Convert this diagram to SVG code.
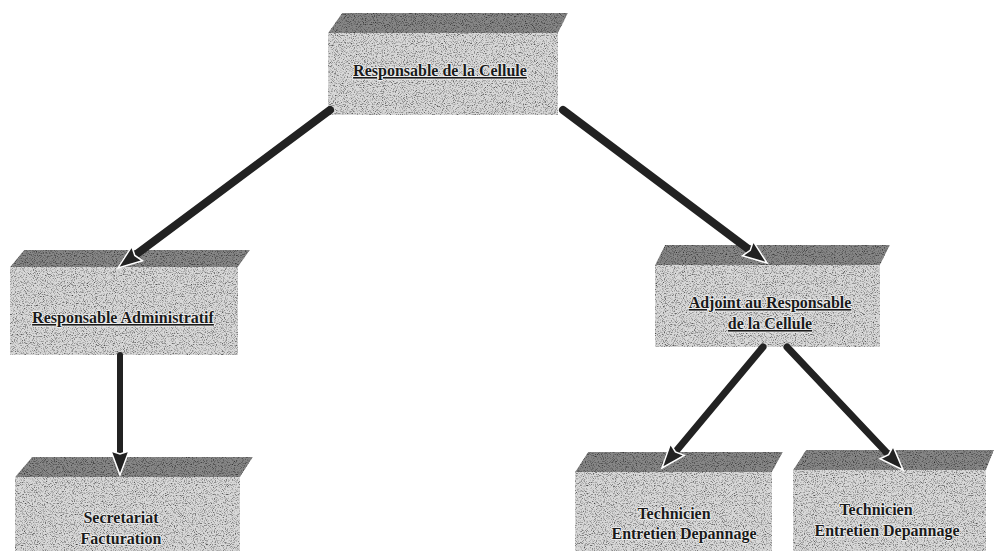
<svg xmlns="http://www.w3.org/2000/svg" width="994" height="551" viewBox="0 0 994 551">
  <defs>
    <filter id="grain" x="-5%" y="-5%" width="110%" height="110%" color-interpolation-filters="sRGB">
      <feTurbulence type="fractalNoise" baseFrequency="0.9" numOctaves="2" seed="7" result="noise"/>
      <feColorMatrix in="noise" type="matrix" values="1.7 0 0 0 0.12  1.7 0 0 0 0.12  1.7 0 0 0 0.12  0 0 0 0 1" result="gray"/>
      <feBlend in="SourceGraphic" in2="gray" mode="multiply" result="mix"/>
      <feComposite in="mix" in2="SourceAlpha" operator="in"/>
    </filter>
    <marker id="head" markerUnits="userSpaceOnUse" markerWidth="30" markerHeight="24" refX="6" refY="10" orient="auto" overflow="visible">
      <path d="M0,1 L24,10 L0,19 L3,10 Z" fill="#222222" stroke="#ffffff" stroke-width="1.5" stroke-linejoin="miter"/>
    </marker>
  </defs>
  <style>
    .top { fill: #868686; filter: url(#grain); }
    .front { fill: #d8d8d8; filter: url(#grain); }
    .lbl { font-family: "Liberation Serif", "Times New Roman", serif; font-size: 16px; font-weight: bold; fill: #1a1a1a; text-anchor: middle; stroke: #f2f2f2; stroke-width: 1.6; paint-order: stroke; stroke-linejoin: round; }
    .ul { text-decoration: underline; }
    .arrow { fill: none; stroke: #222222; stroke-linecap: round; marker-end: url(#head); }
  </style>
  <rect width="994" height="551" fill="#ffffff"/>

  <g id="node-responsable-cellule">
    <polygon class="top" points="328,33 342,13 568,13 558,33"/>
    <rect class="front" x="328" y="33" width="230" height="82"/>
    <text class="lbl ul" x="440" y="76">Responsable de la Cellule</text>
  </g>

  <g id="node-responsable-administratif">
    <polygon class="top" points="10,267 24,250 250,250 238,267"/>
    <rect class="front" x="10" y="267" width="228" height="88"/>
    <text class="lbl ul" x="123" y="323">Responsable Administratif</text>
  </g>

  <g id="node-adjoint">
    <polygon class="top" points="655,265 665,245 890,245 880,265"/>
    <rect class="front" x="655" y="265" width="225" height="82"/>
    <text class="lbl ul" x="770" y="308">Adjoint au Responsable</text>
    <text class="lbl ul" x="770" y="329">de la Cellule</text>
  </g>

  <g id="node-secretariat">
    <polygon class="top" points="15,477 32,457 253,457 240,477"/>
    <rect class="front" x="15" y="477" width="225" height="74"/>
    <text class="lbl" x="121" y="523">Secretariat</text>
    <text class="lbl" x="121" y="544">Facturation</text>
  </g>

  <g id="node-technicien-1">
    <polygon class="top" points="575,472 588,452 783,452 772,472"/>
    <rect class="front" x="575" y="472" width="197" height="79"/>
    <text class="lbl" x="674" y="519">Technicien</text>
    <text class="lbl" x="684" y="539">Entretien Depannage</text>
  </g>

  <g id="node-technicien-2">
    <polygon class="top" points="793,470 806,450 994,450 986,470"/>
    <rect class="front" x="793" y="470" width="193" height="81"/>
    <text class="lbl" x="876" y="515">Technicien</text>
    <text class="lbl" x="887" y="536">Entretien Depannage</text>
  </g>

  <g id="connectors">
    <line class="arrow" stroke-width="8" x1="330" y1="110" x2="132.4" y2="257.2"/>
    <line class="arrow" stroke-width="8" x1="563" y1="110" x2="752.6" y2="252.2"/>
    <line class="arrow" stroke-width="6" x1="120" y1="355" x2="120" y2="457"/>
    <line class="arrow" stroke-width="7" x1="763" y1="347" x2="673.5" y2="454.2"/>
    <line class="arrow" stroke-width="7" x1="787" y1="347" x2="890.7" y2="456.9"/>
  </g>
</svg>
